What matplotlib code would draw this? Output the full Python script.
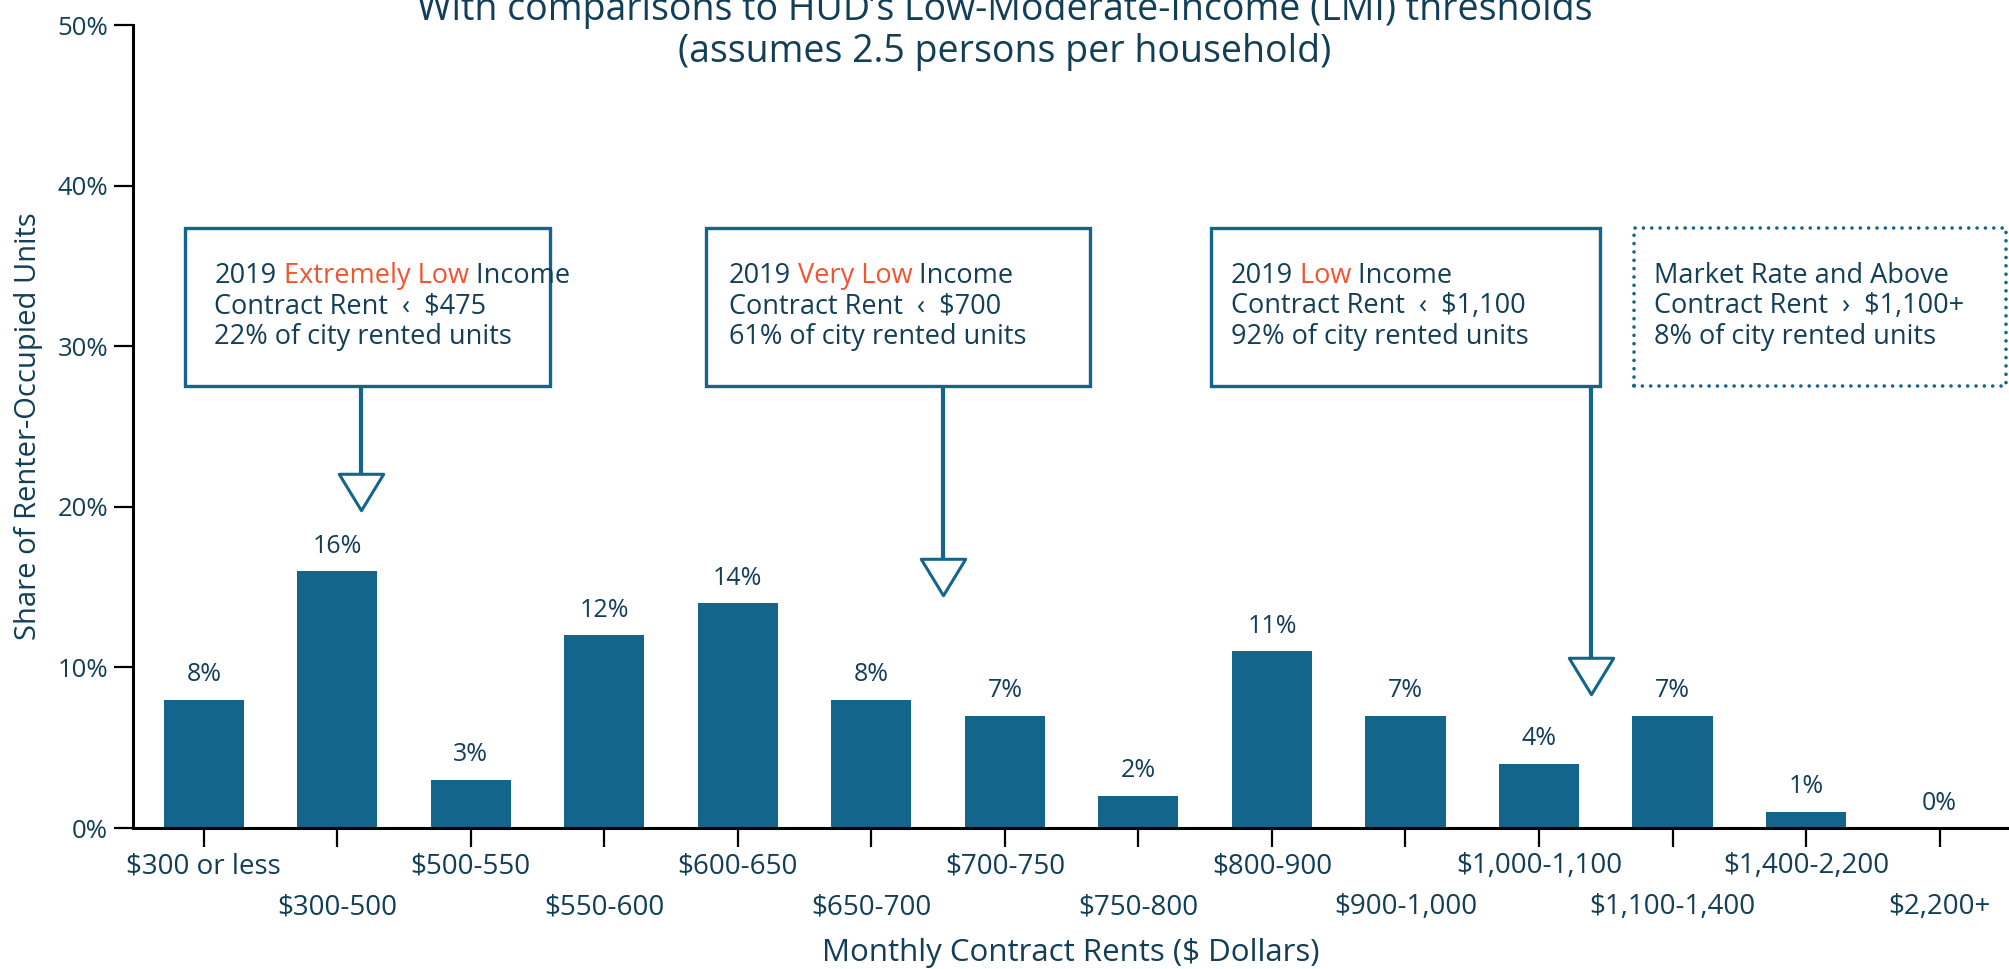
import numpy as np
import matplotlib.pyplot as plt
from matplotlib.patches import Rectangle
from matplotlib.path import Path

plt.rcParams['font.family'] = ['Open Sans', 'DejaVu Sans']

# Renter-occupied units by monthly contract rent (share of city total, %)
rent_bins = ['$300 or less', '$300-500', '$500-550', '$550-600', '$600-650',
             '$650-700', '$700-750', '$750-800', '$800-900', '$900-1,000',
             '$1,000-1,100', '$1,100-1,400', '$1,400-2,200', '$2,200+']
shares = [8, 16, 3, 12, 14, 8, 7, 2, 11, 7, 4, 7, 1, 0]

# HUD income thresholds shown as callouts
income_levels = ['Extremely Low', 'Very Low', 'Low']
rent_limits = ['$475', '$700', '$1,100']
cum_shares = [22, 61, 92]
market_lines = ['Market Rate and Above', 'Contract Rent  \u203a  $1,100+',
                '8% of city rented units']

BLUE = '#13658b'
NAVY = '#123e58'
ORANGE = '#f2542d'
FS_BOX = 19.5
FS_VAL = 18
FS_TICK = 20


def colored_line(ax, x, y, parts):
    """Write one line made of differently colored pieces."""
    s, c = parts[0]
    t = ax.text(x, y, s, color=c, fontsize=FS_BOX, va='center', ha='left')
    for s, c in parts[1:]:
        t = ax.annotate(s, xycoords=t, xy=(1, 0), va='bottom', ha='left',
                        color=c, fontsize=FS_BOX)
    return t


fig = plt.figure(figsize=(20.09, 9.69), dpi=100)
ax = fig.add_axes([0.0662, 0.1455, 0.9338, 0.8285])

x = np.arange(len(rent_bins))
ax.bar(x, shares, width=0.6, color=BLUE, zorder=2)
for xi, v in zip(x, shares):
    ax.annotate(f'{v}%', (xi, v), xytext=(0, 9), textcoords='offset points',
                ha='center', va='bottom', fontsize=FS_VAL, color=NAVY)

ax.set_xlim(-0.53, 13.52)
ax.set_ylim(0, 50)
ax.set_yticks(range(0, 51, 10))
ax.set_yticklabels([f'{v}%' for v in range(0, 51, 10)])
ax.set_xticks(x)
ax.set_xticklabels(rent_bins)

for side in ['top', 'right']:
    ax.spines[side].set_visible(False)
for side in ['left', 'bottom']:
    ax.spines[side].set_linewidth(2.2)
    ax.spines[side].set_color('black')
ax.tick_params(axis='both', colors='black', labelcolor=NAVY, width=1.6)
ax.tick_params(axis='y', length=14, pad=4, labelsize=FS_VAL + 0.5)
ax.tick_params(axis='x', length=14, pad=3.5, labelsize=FS_TICK)
# stagger the long rent labels on two rows
for i, tick in enumerate(ax.xaxis.get_major_ticks()):
    if i % 2 == 1:
        tick.set_pad(33)

ax.set_ylabel('Share of Renter-Occupied Units', fontsize=21, color=NAVY,
              labelpad=10)
ax.set_xlabel('Monthly Contract Rents ($ Dollars)', fontsize=22.5,
              color=NAVY, labelpad=12)

fig.text(0.5, 1 - 20 / 969,
         'With comparisons to HUD\u2019s Low-Moderate-Income (LMI) thresholds',
         ha='center', va='baseline', fontsize=27, color=NAVY)
fig.text(0.5, 1 - 62 / 969, '(assumes 2.5 persons per household)',
         ha='center', va='baseline', fontsize=27, color=NAVY)

# callout boxes: (left, right) in bar units, shared top/bottom in %
box_spans = [(-0.14, 2.59), (3.76, 6.64), (7.54, 10.46), (10.71, 13.5)]
box_text_x = [0.08, 3.93, 7.69, 10.86]
box_bottom, box_top = 27.5, 37.4
line_y = [34.4, 32.5, 30.6]
arrow_x = [1.18, 5.54, 10.39]
arrow_tip = [19.8, 14.5, 8.3]

tri = Path([(-1, 0.82), (1, 0.82), (0, -0.82), (-1, 0.82)],
           [Path.MOVETO, Path.LINETO, Path.LINETO, Path.CLOSEPOLY])
px_per_pct = 0.8285 * 969 / 50
head_h = 37 / px_per_pct

for i, (l, r) in enumerate(box_spans):
    dotted = i == 3
    ax.add_patch(Rectangle((l, box_bottom), r - l, box_top - box_bottom,
                           fill=False, edgecolor=BLUE, clip_on=False,
                           linewidth=2.4 if not dotted else 2.6,
                           linestyle=(0, (0.01, 2.3)) if dotted else '-',
                           capstyle='round', zorder=3))
    tx = box_text_x[i]
    if dotted:
        for y, s in zip(line_y, market_lines):
            ax.text(tx, y, s, fontsize=FS_BOX, color=NAVY, va='center')
        continue
    colored_line(ax, tx, line_y[0], [('2019', NAVY),
                                     (' ' + income_levels[i], ORANGE),
                                     (' Income', NAVY)])
    ax.text(tx, line_y[1], f'Contract Rent  \u2039  {rent_limits[i]}',
            fontsize=FS_BOX, color=NAVY, va='center')
    ax.text(tx, line_y[2], f'{cum_shares[i]}% of city rented units',
            fontsize=FS_BOX, color=NAVY, va='center')
    # pointer from the box down to the threshold position
    ax.plot([arrow_x[i], arrow_x[i]], [box_bottom, arrow_tip[i] + head_h],
            color=BLUE, linewidth=3, solid_capstyle='butt', clip_on=False,
            zorder=3)
    ax.plot(arrow_x[i], arrow_tip[i] + head_h / 2, marker=tri,
            markersize=32, markerfacecolor='white', markeredgecolor=BLUE,
            markeredgewidth=2.2, clip_on=False, zorder=4)

fig.savefig('out.png', dpi=100)
